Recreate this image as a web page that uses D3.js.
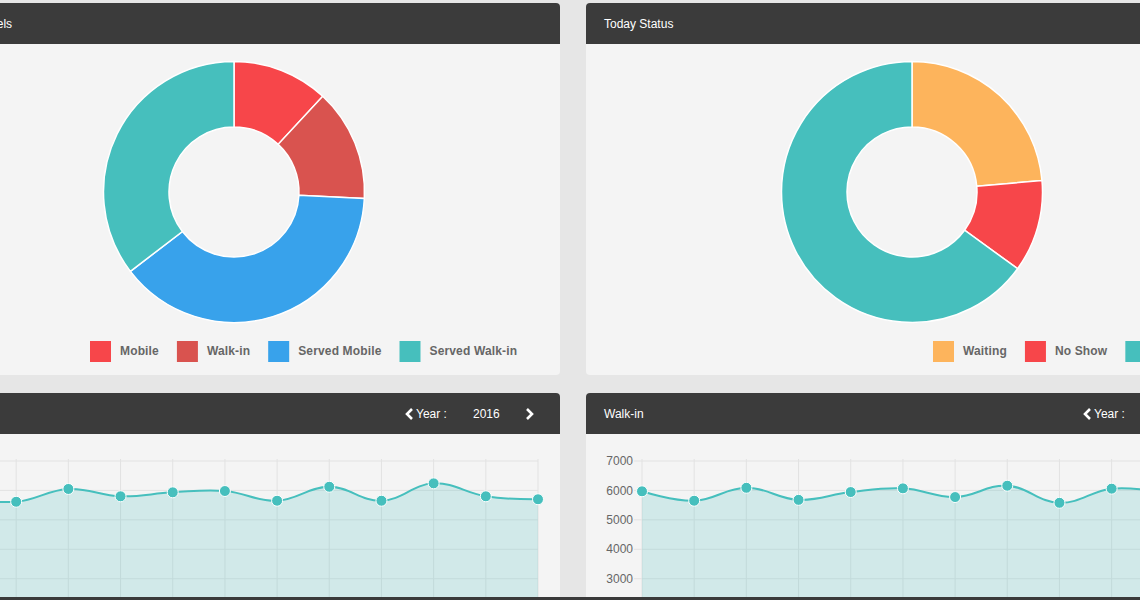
<!DOCTYPE html>
<html>
<head>
<meta charset="utf-8">
<script src="https://cdn.jsdelivr.net/npm/d3@7"></script>
<style>
  body { margin: 0; background: #e6e6e6; overflow: hidden; }
  svg { display: block; font-family: "Liberation Sans", Arial, sans-serif; }
</style>
</head>
<body>
<div id="dash"></div>
<script>
// data
var channelLabels = ["Mobile", "Walk-in", "Served Mobile", "Served Walk-in"];
var channelValues = [119, 139, 388, 354];
var channelColours = ["#f7464a", "#d9534f", "#38a2eb", "#46bfbd"];

var statusLabels = ["Waiting", "No Show", "Served"];
var statusValues = [236, 114, 650];
var statusColours = ["#fdb45c", "#f7464a", "#46bfbd"];

var months = ["Jan", "Feb", "Mar", "Apr", "May", "Jun", "Jul", "Aug", "Sep", "Oct", "Nov", "Dec"];
var mobileValues = [5750, 5615, 6050, 5800, 5935, 5980, 5650, 6125, 5650, 6240, 5800, 5700];
var walkinValues = [5970, 5650, 6090, 5680, 5945, 6070, 5775, 6160, 5580, 6060, 5980, 6100];
var yTicks = [0, 1000, 2000, 3000, 4000, 5000, 6000, 7000];
var year = "2016";

var width = 1140, height = 600;
var panelW = 652;
var panelX = [-92, 586];

var svg = d3.select("#dash").append("svg")
    .attr("width", width)
    .attr("height", height);

// panels: body + dark header
function panel(x, y, h, title) {
  var g = svg.append("g").attr("transform", "translate(" + x + "," + y + ")");
  g.append("rect").attr("width", panelW).attr("height", h).attr("rx", 4).attr("fill", "#f4f4f4");
  g.append("rect").attr("width", panelW).attr("height", 41).attr("rx", 4).attr("fill", "#3b3b3b");
  g.append("rect").attr("y", 37).attr("width", panelW).attr("height", 4).attr("fill", "#3b3b3b");
  g.append("text")
    .attr("x", 18).attr("y", 25)
    .attr("fill", "#fff").style("font-size", "12px")
    .text(title);
  return g;
}

// "< Year : 2016 >" in the header of the line panels
function yearNav(g) {
  g.append("path")
    .attr("d", "M10,-5 L5,0 L10,5")
    .attr("transform", "translate(494,21)")
    .attr("fill", "none").attr("stroke", "#fff").attr("stroke-width", 2.6);
  g.append("text").attr("x", 508).attr("y", 25).attr("fill", "#fff")
    .style("font-size", "12px").text("Year :");
  g.append("text").attr("x", 565).attr("y", 25).attr("fill", "#fff")
    .style("font-size", "12px").text(year);
  g.append("path")
    .attr("d", "M5,-5 L10,0 L5,5")
    .attr("transform", "translate(614,21)")
    .attr("fill", "none").attr("stroke", "#fff").attr("stroke-width", 2.6);
}

function donut(g, labels, values, colours, legendX) {
  var pie = d3.pie().sort(null).value(function(d) { return d; });
  var arc = d3.arc().innerRadius(65).outerRadius(130.5);
  var c = g.append("g").attr("transform", "translate(" + panelW / 2 + ",189)");
  c.selectAll("path")
    .data(pie(values))
    .enter().append("path")
    .attr("d", arc)
    .attr("fill", function(d, i) { return colours[i]; })
    .attr("stroke", "#fff")
    .attr("stroke-width", 1.5);

  // legend, laid out left to right
  var lx = legendX;
  labels.forEach(function(l, i) {
    g.append("rect")
      .attr("x", lx).attr("y", 338)
      .attr("width", 21).attr("height", 21)
      .attr("fill", colours[i]);
    var t = g.append("text")
      .attr("x", lx + 30).attr("y", 352)
      .attr("fill", "#666")
      .style("font-size", "12px").style("font-weight", "bold")
      .style("letter-spacing", "0.15px")
      .text(l);
    lx += 30 + t.node().getComputedTextLength() + 18;
  });
}

function lineChart(g, values) {
  var x = d3.scalePoint().domain(months).range([56, 56 + 574]);
  var y = d3.scaleLinear().domain([0, 7000]).range([274, 68]);
  var grid = g.append("g");

  grid.selectAll(".vg").data(months).enter().append("line")
    .attr("x1", function(d) { return x(d); }).attr("x2", function(d) { return x(d); })
    .attr("y1", 66).attr("y2", 274)
    .attr("stroke", "#e2e2e2");
  grid.selectAll(".hg").data(yTicks).enter().append("line")
    .attr("x1", 48).attr("x2", x(months[11]))
    .attr("y1", function(d) { return y(d); }).attr("y2", function(d) { return y(d); })
    .attr("stroke", "#e2e2e2");
  grid.selectAll(".yl").data(yTicks).enter().append("text")
    .attr("x", 47).attr("y", function(d) { return y(d); })
    .attr("dy", "0.35em")
    .attr("text-anchor", "end")
    .attr("fill", "#666")
    .style("font-size", "12px")
    .text(function(d) { return d; });

  var curve = d3.curveCardinal.tension(-0.2);
  var area = d3.area()
    .x(function(d, i) { return x(months[i]); })
    .y0(y(0))
    .y1(function(d) { return y(d); })
    .curve(curve);
  var line = d3.line()
    .x(function(d, i) { return x(months[i]); })
    .y(function(d) { return y(d); })
    .curve(curve);

  g.append("path").datum(values).attr("d", area)
    .attr("fill", "rgba(70,191,189,0.2)");
  g.append("path").datum(values).attr("d", line)
    .attr("fill", "none").attr("stroke", "#46bfbd").attr("stroke-width", 2);
  g.selectAll(".dot").data(values).enter().append("circle")
    .attr("cx", function(d, i) { return x(months[i]); })
    .attr("cy", function(d) { return y(d); })
    .attr("r", 5.5)
    .attr("fill", "#46bfbd")
    .attr("stroke", "#fff")
    .attr("stroke-width", 1);
}

var p1 = panel(panelX[0], 3, 372, "Today Channels");
donut(p1, channelLabels, channelValues, channelColours, 182);

var p2 = panel(panelX[1], 3, 372, "Today Status");
donut(p2, statusLabels, statusValues, statusColours, 347);

var p3 = panel(panelX[0], 393, 260, "Mobile");
yearNav(p3);
lineChart(p3, mobileValues);

var p4 = panel(panelX[1], 393, 260, "Walk-in");
yearNav(p4);
lineChart(p4, walkinValues);

// dark strip along the bottom edge of the screenshot
svg.append("rect").attr("x", 0).attr("y", 597).attr("width", width).attr("height", 3).attr("fill", "#3a3a3a");
</script>
</body>
</html>
